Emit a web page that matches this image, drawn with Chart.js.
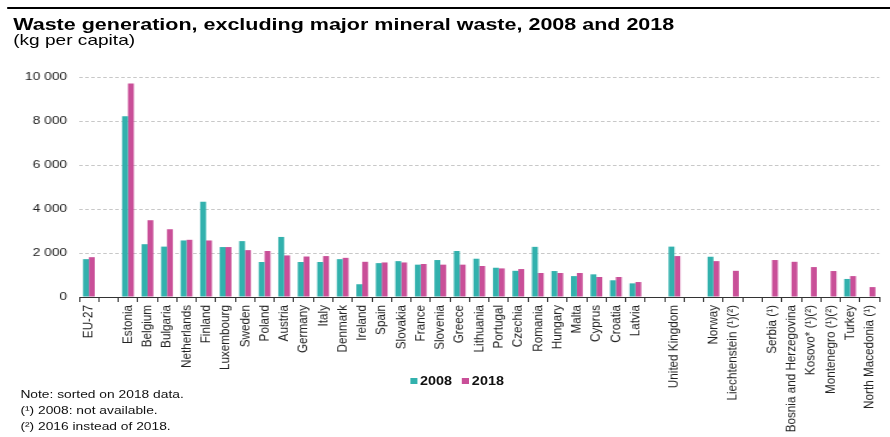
<!DOCTYPE html>
<html>
<head>
<meta charset="utf-8">
<script src="https://cdn.jsdelivr.net/npm/chart.js@4.4.1/dist/chart.umd.min.js"></script>
<style>
  html, body { margin: 0; padding: 0; background: #fff; }
  body { width: 890px; height: 437px; overflow: hidden; }
  #page {
    position: relative; width: 742px; height: 437px;
    transform: scaleX(1.1995); transform-origin: 0 0;
    font-family: "Liberation Sans", Arial, sans-serif; color: #000;
  }
  #rule { position: absolute; left: 6px; right: 0; top: 7px; height: 2px; background: #000; }
  .head { position: absolute; left: 10.6px; transform-origin: 0 0; white-space: nowrap; line-height: 1; }
  #title { top: 16.7px; font-size: 16px; font-weight: bold; transform: scaleX(1.12); }
  #unit { top: 32px; font-size: 15px; transform: scaleX(1.06); }
  #wrap { position: absolute; left: 0; top: 0; width: 742px; height: 437px; }
  #legend { position: absolute; left: 341.7px; top: 374.8px; display: flex; align-items: center; font-size: 12px; font-weight: bold; line-height: 1; color: #111; }
  #legend i { display: inline-block; width: 6px; height: 6px; margin-right: 2.5px; }
  #legend span { margin-right: 8px; }
  #notes { position: absolute; left: 17px; top: 386.2px; font-size: 11.5px; line-height: 16px; color: #111; white-space: nowrap; }
</style>
</head>
<body>
<div id="page">
  <div id="rule"></div>
  <div class="head" id="title">Waste generation, excluding major mineral waste, 2008 and 2018</div>
  <div class="head" id="unit">(kg per capita)</div>
  <div id="wrap"><canvas id="chart"></canvas></div>
  <div id="legend">
    <i style="background:#32b1ad"></i><span>2008</span>
    <i style="background:#c94f98"></i><span>2018</span>
  </div>
  <div id="notes">
    Note: sorted on 2018 data.<br>
    (¹) 2008: not available.<br>
    (²) 2016 instead of 2018.
  </div>
</div>
<script>
// countries, with blank slots separating the groups
const countries = [
  'EU-27', '',
  'Estonia', 'Belgium', 'Bulgaria', 'Netherlands', 'Finland', 'Luxembourg', 'Sweden',
  'Poland', 'Austria', 'Germany', 'Italy', 'Denmark', 'Ireland', 'Spain', 'Slovakia',
  'France', 'Slovenia', 'Greece', 'Lithuania', 'Portugal', 'Czechia', 'Romania',
  'Hungary', 'Malta', 'Cyprus', 'Croatia', 'Latvia', '',
  'United Kingdom', '',
  'Norway', 'Liechtenstein (¹)(²)', '',
  'Serbia (¹)', 'Bosnia and Herzegovina', 'Kosovo* (¹)(²)', 'Montenegro (¹)(²)',
  'Turkey', 'North Macedonia (¹)'
];

// kg per capita
const waste2008 = [
  1720, null,
  8220, 2400, 2290, 2570, 4330, 2270, 2540,
  1590, 2730, 1590, 1590, 1720, 580, 1540, 1630,
  1470, 1680, 2090, 1740, 1330, 1190, 2280,
  1180, 950, 1030, 760, 620, null,
  2290, null,
  1830, null, null,
  null, null, null, null,
  820, null
];

const waste2018 = [
  1810, null,
  9700, 3490, 3080, 2600, 2570, 2270, 2130,
  2090, 1890, 1840, 1860, 1780, 1600, 1570, 1570,
  1500, 1470, 1470, 1410, 1300, 1270, 1090,
  1090, 1090, 910, 910, 680, null,
  1860, null,
  1630, 1190, null,
  1680, 1600, 1360, 1180,
  950, 450
];

const yTicks = [0, 2000, 4000, 6000, 8000, 10000];

const font = '"Liberation Sans", Arial, sans-serif';

function spaced(v) {
  return String(v).replace(/\B(?=(\d{3})+(?!\d))/g, ' ');
}

new Chart(document.getElementById('chart'), {
  type: 'bar',
  data: {
    labels: countries,
    datasets: [
      { label: '2008', data: waste2008, backgroundColor: '#32b1ad' },
      { label: '2018', data: waste2018, backgroundColor: '#c94f98' }
    ]
  },
  options: {
    responsive: true,
    maintainAspectRatio: false,
    animation: false,
    layout: { padding: { top: 77, left: 0, right: 1, bottom: 0 } },
    datasets: { bar: { barPercentage: 1, categoryPercentage: 0.6 } },
    plugins: {
      legend: { display: false },
      tooltip: { enabled: false }
    },
    scales: {
      x: {
        afterFit(s) { s.height = 140; },
        grid: { offset: true, drawOnChartArea: false, drawTicks: true, tickLength: 5, color: '#333' },
        border: { color: '#333', width: 1 },
        ticks: {
          autoSkip: false, maxRotation: 90, minRotation: 90, padding: 3,
          color: '#222', font: { family: font, size: 11.7 }
        }
      },
      y: {
        min: yTicks[0],
        max: yTicks[yTicks.length - 1],
        afterFit(s) { s.width = 66; },
        afterBuildTicks(s) { s.ticks = yTicks.map(v => ({ value: v })); },
        grid: { color: '#c8c8c8', drawTicks: false },
        border: { display: false, dash: [3, 2] },
        ticks: {
          padding: 10, color: '#222',
          font: { family: font, size: 11.5 },
          callback: v => spaced(v)
        }
      }
    }
  }
});
</script>
</body>
</html>
